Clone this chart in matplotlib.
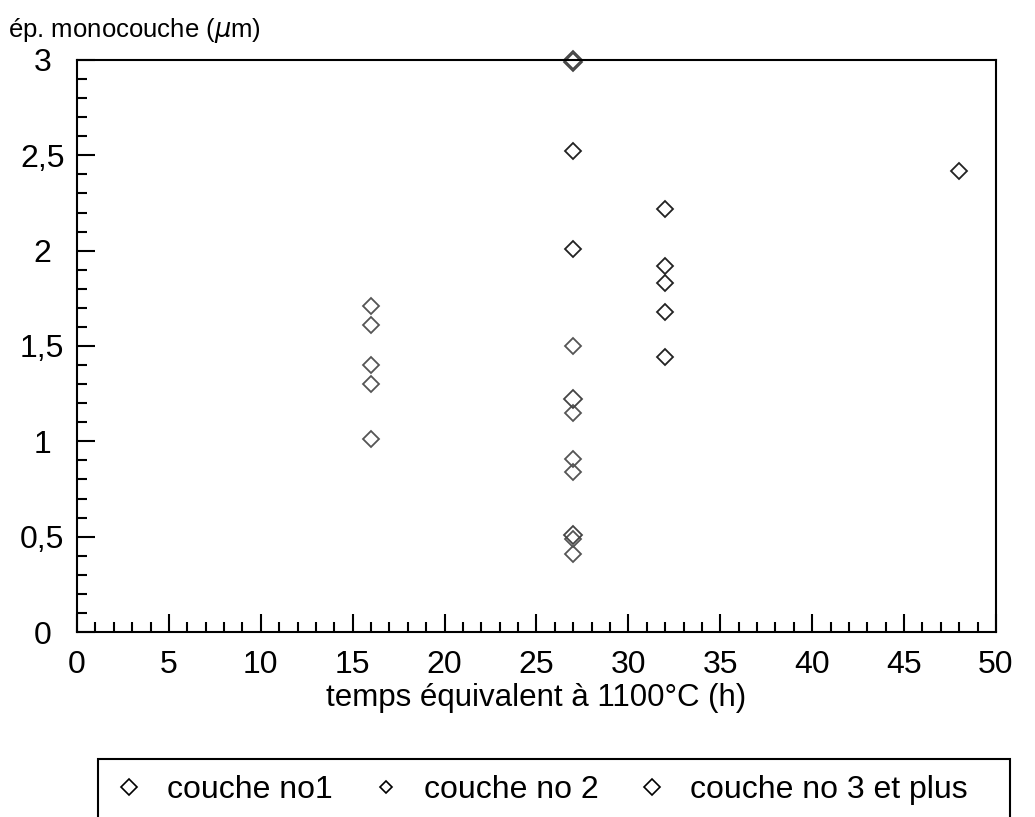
import matplotlib.pyplot as plt
from matplotlib.lines import Line2D
from matplotlib.patches import Rectangle
from matplotlib.ticker import MultipleLocator, FuncFormatter

plt.rcParams['font.family'] = ['Liberation Sans', 'DejaVu Sans']

# couche no1
x1 = [27, 27, 32, 32, 32, 32, 32, 48]
y1 = [2.52, 2.01, 2.22, 1.92, 1.83, 1.68, 1.44, 2.42]
# couche no 2
x2 = [16, 16, 16, 16, 16, 27, 27, 27, 27, 27, 27]
y2 = [1.71, 1.61, 1.40, 1.30, 1.01, 1.50, 1.15, 0.91, 0.84, 0.49, 0.41]
# couche no 3 et plus
x3 = [27, 27, 27, 27]
y3 = [3.0, 2.99, 1.22, 0.51]

labels = ['couche no1', 'couche no 2', 'couche no 3 et plus']

fig = plt.figure(figsize=(10.35, 8.17), dpi=100)
ax = fig.add_axes([0.0744, 0.2264, 0.8879, 0.7002])

ax.plot(x1, y1, 'D', ms=8, mfc='none', mec='#222222', mew=1.3, clip_on=False)
ax.plot(x2, y2, 'D', ms=8, mfc='none', mec='#555555', mew=1.3, clip_on=False)
ax.plot(x3, y3, 'D', ms=9, mfc='none', mec='#444444', mew=1.3, clip_on=False)

ax.set_xlim(0, 50)
ax.set_ylim(0, 3)
ax.xaxis.set_major_locator(MultipleLocator(5))
ax.xaxis.set_minor_locator(MultipleLocator(1))
ax.yaxis.set_major_locator(MultipleLocator(0.5))
ax.yaxis.set_minor_locator(MultipleLocator(0.1))
ax.yaxis.set_major_formatter(FuncFormatter(lambda v, p: ('%g' % v).replace('.', ',')))
ax.tick_params(which='both', direction='in', top=False, right=False, width=1.5,
               labelsize=23, colors='black')
ax.tick_params(which='major', length=13)
ax.tick_params(which='minor', length=7)
ax.tick_params(axis='x', which='major', pad=13)
ax.tick_params(axis='y', which='major', pad=25)
for lab in ax.get_yticklabels():
    lab.set_horizontalalignment('center')
for s in ax.spines.values():
    s.set_linewidth(1.5)

ax.set_xlabel('temps équivalent à 1100°C (h)', fontsize=22.5, labelpad=2)
fig.text(0.008, 0.955, 'ép. monocouche ($\\mathit{\\mu}$m)', fontsize=18.5, ha='left', va='baseline')

handles = [Line2D([], [], ls='none', marker='D', ms=8, mfc='none', mec='black', mew=1.2),
           Line2D([], [], ls='none', marker='D', ms=6.5, mfc='none', mec='black', mew=1.2),
           Line2D([], [], ls='none', marker='D', ms=8.5, mfc='none', mec='black', mew=1.2)]
fig.legend(handles, labels, loc='center', bbox_to_anchor=(0.522, 0.033), ncol=3,
           frameon=False, fontsize=23, handletextpad=0.7, columnspacing=1.15, handlelength=1.0)
fig.patches.append(Rectangle((98 / 1035, -0.05), 912 / 1035, 0.05 + 58 / 817,
                             transform=fig.transFigure, fill=False, ec='black', lw=1.5))

fig.savefig('out.png', dpi=100)
